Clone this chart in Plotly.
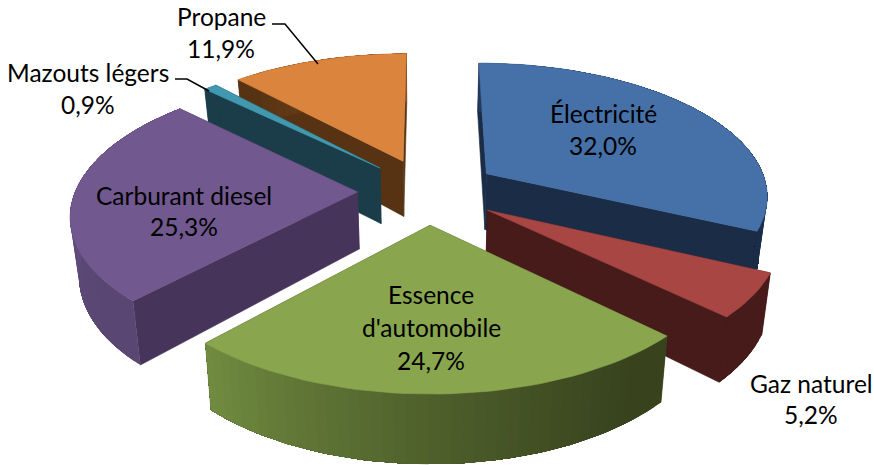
import math
import plotly.graph_objects as go

# Data, clockwise from 12 o'clock
categories = ["Électricité", "Gaz naturel", "Essence d'automobile", "Carburant diesel", "Mazouts légers", "Propane"]
values = [32.0, 5.2, 24.7, 25.3, 0.9, 11.9]

top_colors = ["#4570A8", "#A84644", "#89A54E", "#71588F", "#4198AF", "#DB843D"]
side_colors = ["#1B2D46", "#461B19", "#3F4D22", "#46345A", "#1A3D49", "#573314"]
# Outer wall colour along the arc of each slice
arc_colors = [("#24395A", "#1B2D46"), ("#461B19", "#461B19"), ("#38431E", "#718C40"),
              ("#5A4672", "#6E5689"), ("#1A3D49", "#1A3D49"), ("#573314", "#8A5523")]
draw_order = [5, 4, 3, 0, 1, 2]

# Label layout: (centre x, [(y of each line)]) in pixels, leader lines
label_lines = {
    0: (603, [113, 145], ["Électricité"]),
    1: (811, [383, 414], ["Gaz naturel"]),
    2: (431, [294, 327, 360], ["Essence", "d'automobile"]),
    3: (184, [195, 226], ["Carburant diesel"]),
    4: (88, [72, 104], ["Mazouts légers"]),
    5: (221, [16, 48], ["Propane"]),
}
leaders = [([272, 285, 318], [24, 24, 64]), ([175, 187, 209], [79, 79, 91])]

# Projection of the exploded disc
CX, CY, A, B, K, EXPLODE, DEPTH, BOTTOM_SCALE = 428, 191, 282, 132, 0.15, 0.25, 57, 0.975


def project(X, Y, bottom=False):
    w = 1 + K * Y
    sx = CX + A * X / w
    sy = CY - B * Y / w
    if bottom:
        sx = CX + (sx - CX) * BOTTOM_SCALE
        sy += DEPTH / w
    return sx, sy


def hex_mix(c1, c2, t):
    a = [int(c1[i:i + 2], 16) for i in (1, 3, 5)]
    b = [int(c2[i:i + 2], 16) for i in (1, 3, 5)]
    return "rgb(%d,%d,%d)" % tuple(round(p + (q - p) * t) for p, q in zip(a, b))


fig = go.Figure()


def poly(points, color, edge=0.6):
    xs = [p[0] for p in points] + [points[0][0]]
    ys = [p[1] for p in points] + [points[0][1]]
    fig.add_trace(go.Scatter(x=xs, y=ys, mode="lines", fill="toself", fillcolor=color,
                             line=dict(color=color, width=edge), hoverinfo="skip", showlegend=False))


total = sum(values)
starts = []
acc = 0.0
for v in values:
    starts.append(acc)
    acc += v / total * 2 * math.pi

for i in draw_order:
    a0 = starts[i]
    sweep = values[i] / total * 2 * math.pi
    mid = a0 + sweep / 2
    ox, oy = EXPLODE * math.sin(mid), EXPLODE * math.cos(mid)
    n = max(3, int(sweep * 30))
    rim = [(ox + math.sin(a0 + sweep * j / n), oy + math.cos(a0 + sweep * j / n)) for j in range(n + 1)]

    # radial walls
    for e in (rim[0], rim[-1]):
        poly([project(ox, oy), project(*e), project(*e, bottom=True), project(ox, oy, bottom=True)], side_colors[i])
    # outer wall: each strip runs from its own start to the far end of the arc, so
    # later strips paint over earlier ones and no seams are left between them
    c0, c1 = arc_colors[i]
    for j in range(n):
        band = rim[j:]
        t = max(0.0, ((j + 0.5) / n - 0.1) / 0.9) ** 1.2
        poly([project(*r) for r in band] + [project(*r, bottom=True) for r in reversed(band)],
             hex_mix(c0, c1, t), edge=0)
    # top face
    poly([project(ox, oy)] + [project(*r) for r in rim], top_colors[i])

for lx, ly in leaders:
    fig.add_trace(go.Scatter(x=lx, y=ly, mode="lines", line=dict(color="black", width=1.5),
                             hoverinfo="skip", showlegend=False))

for i, (x, ys, names) in label_lines.items():
    pct = f"{values[i]:.1f}%".replace(".", ",")
    for y, text in zip(ys, names + [pct]):
        fig.add_annotation(x=x, y=y, text=text, showarrow=False, xanchor="center", yanchor="middle",
                           font=dict(family="Lato", size=24.5, color="black"))

fig.update_layout(
    width=874, height=465, autosize=False,
    margin=dict(l=0, r=0, t=0, b=0),
    paper_bgcolor="white", plot_bgcolor="white", showlegend=False,
    xaxis=dict(range=[0, 874], visible=False, fixedrange=True),
    yaxis=dict(range=[465, 0], visible=False, fixedrange=True),
)
fig.write_html("out.html", config={"displayModeBar": False},
               post_script="document.body.style.margin='0';document.documentElement.style.overflow='hidden';")
